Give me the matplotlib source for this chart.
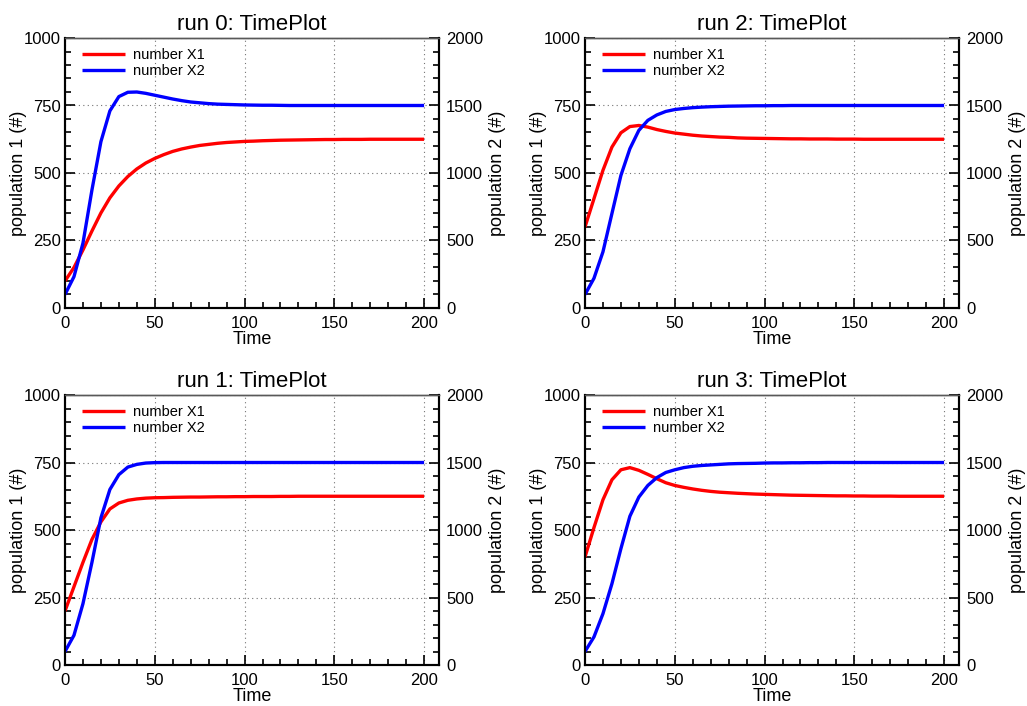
import numpy as np
import matplotlib.pyplot as plt
from matplotlib.ticker import MultipleLocator

plt.rcParams['font.family'] = ['Liberation Sans', 'DejaVu Sans']

# sampling times of the simulation output
t = list(range(0, 205, 5))

run0_x1 = [100, 150, 215, 285, 352, 408, 452, 487, 515, 537, 554, 568, 580, 589, 596, 602, 606, 610, 613, 615,
           617, 618, 619.5, 620.5, 621.5, 622, 622.5, 623, 623.5, 624, 624, 624.5, 624.5, 624.5, 625, 625,
           625, 625, 625, 625, 625]
run0_x2 = [100, 232, 480, 874, 1232, 1460, 1566, 1598, 1600, 1590, 1576, 1562, 1548, 1536, 1526, 1520, 1514,
           1510, 1508, 1506, 1504, 1503, 1502, 1502, 1501] + [1500] * 16

run1_x1 = [200, 290, 380, 465, 530, 578, 600, 610, 615, 618, 619.5, 620, 621, 621.5, 622, 622, 622.5, 623, 623,
           623.5, 623.5, 624, 624, 624, 624.5, 624.5] + [625] * 15
run1_x2 = [100, 220, 454, 760, 1090, 1300, 1410, 1466, 1486, 1496, 1499] + [1500] * 30

run2_x1 = [300, 405, 510, 596, 649, 672, 676, 670, 661, 654, 648, 644, 640, 637, 635, 633, 632, 630, 629, 628.5,
           628, 627.5, 627, 626.5, 626.5, 626, 626, 626, 625.5, 625.5, 625.5] + [625] * 10
run2_x2 = [100, 220, 416, 700, 982, 1180, 1316, 1390, 1430, 1456, 1470, 1478, 1484, 1488, 1491, 1493, 1495, 1496,
           1497, 1498, 1498, 1499, 1499] + [1500] * 18

run3_x1 = [400, 509, 612, 686, 723, 731, 721, 706, 690, 675, 665, 658, 652, 647, 643, 640, 638, 636, 634.5, 633,
           632, 631, 630, 629, 628.5, 628, 627.5, 627, 626.5, 626.5, 626, 626, 625.5, 625.5, 625.5] + [625] * 6
run3_x2 = [100, 208, 380, 602, 862, 1102, 1244, 1330, 1388, 1426, 1446, 1462, 1472, 1478, 1482, 1486, 1490, 1492,
           1493, 1494, 1496, 1497, 1497, 1498, 1498, 1499, 1499] + [1500] * 14

W, H = 1027, 706
AW, AH = 374, 270
fig = plt.figure(figsize=(W / 100, H / 100), dpi=100)


def panel(left_px, top_px, title, x1, x2):
    ax = fig.add_axes([left_px / W, 1 - (top_px + AH) / H, AW / W, AH / H])
    ax2 = ax.twinx()
    l1, = ax.plot(t, x1, color='#ff0000', lw=2.4, label='number X1', solid_capstyle='butt')
    l2, = ax2.plot(t, x2, color='#0000ff', lw=2.4, label='number X2', solid_capstyle='butt')

    ax.set_xlim(0, 208.3)
    ax.set_ylim(0, 1000)
    ax2.set_ylim(0, 2000)
    ax.xaxis.set_major_locator(MultipleLocator(50))
    ax.xaxis.set_minor_locator(MultipleLocator(10))
    ax.yaxis.set_major_locator(MultipleLocator(250))
    ax.yaxis.set_minor_locator(MultipleLocator(50))
    ax2.yaxis.set_major_locator(MultipleLocator(500))
    ax2.yaxis.set_minor_locator(MultipleLocator(100))

    ax.grid(True, which='major', color='0.45', linestyle=(0, (1, 3)), lw=0.8)

    for a in (ax, ax2):
        a.tick_params(which='both', direction='in', labelsize=12, width=1.2, pad=3)
        a.tick_params(which='major', length=7)
        a.tick_params(which='minor', length=4)
        for s in ('left', 'right', 'bottom'):
            a.spines[s].set_linewidth(1.5)
        a.spines['top'].set_linewidth(1.0)
        a.spines['top'].set_color('0.35')
    ax.tick_params(axis='x', pad=5.5)
    ax2.tick_params(axis='y', pad=5)
    ax.tick_params(which='both', right=False, top=False)
    ax2.tick_params(which='both', left=False, top=False)

    ax.set_xlabel('Time', fontsize=13)
    ax.xaxis.set_label_coords(0.5, -0.085)
    ax.set_ylabel('population 1 (#)', fontsize=13)
    ax.yaxis.set_label_coords(-0.102, 0.5)
    ax2.set_ylabel('population 2 (#)', fontsize=13)
    ax2.yaxis.set_label_coords(1.134, 0.5)
    ax.set_title(title, fontsize=16, pad=6)

    ax2.legend(handles=[l1, l2], loc='upper left', bbox_to_anchor=(7 / AW, 1), frameon=False,
               fontsize=10.5, handlelength=2.9, handletextpad=0.6, labelspacing=0.1,
               borderaxespad=0.3, borderpad=0.4)


panel(65, 38, 'run 0: TimePlot', run0_x1, run0_x2)
panel(585, 38, 'run 2: TimePlot', run2_x1, run2_x2)
panel(65, 395, 'run 1: TimePlot', run1_x1, run1_x2)
panel(585, 395, 'run 3: TimePlot', run3_x1, run3_x2)

fig.savefig('out.png', dpi=100)
